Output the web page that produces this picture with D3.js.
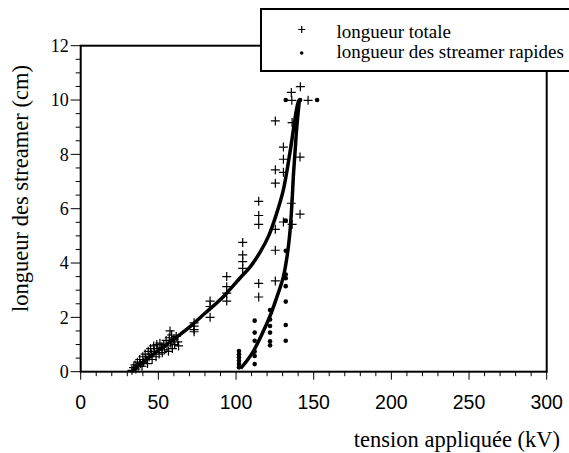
<!DOCTYPE html>
<html>
<head>
<meta charset="utf-8">
<script src="https://cdn.jsdelivr.net/npm/d3@7"></script>
<style>
  body { margin: 0; background: #fff; }
  svg { display: block; }
</style>
</head>
<body>
<div id="chart"></div>
<script>
// longueur totale (kV, cm)
const totale = [
  [33,0.05],[34,0.15],[35,0.25],[35.5,0.1],[36.5,0.35],[37,0.2],[38,0.45],[38.5,0.3],
  [39.5,0.2],[40,0.55],[40.5,0.35],[41.5,0.65],[42,0.45],[43,0.3],[43.5,0.75],[44,0.55],
  [45,0.85],[45.5,0.65],[46,0.45],[47,0.95],[47.5,0.75],[48.5,0.55],[49,1.0],[49.5,0.85],
  [50.5,0.65],[51,1.05],[52,0.9],[52.5,0.7],[53.5,1.0],[54,0.8],[55,1.15],[55.5,0.95],
  [56.5,0.75],[57,1.25],[57.5,1.5],[58,1.05],[58.5,1.35],[59,0.85],[60,1.2],[60.5,1.0],
  [61.5,1.3],[62.5,1.1],[63,0.95],
  [73,1.8],[73,1.68],[73,1.55],[73,1.47],
  [83.3,2.6],[83.3,2.4],[83.3,2.0],
  [94,3.5],[94,3.13],[94,2.89],[94,2.6],
  [104.3,4.76],[104.3,4.3],[104.3,4.05],[104.3,3.8],
  [114.6,6.27],[114.6,5.75],[114.6,5.42],[114.6,3.25],[114.6,2.75],
  [125.3,9.23],[125.3,7.43],[125.3,6.94],[125.3,5.24],[125.3,4.47],[125.3,3.34],
  [130.5,8.27],[130.5,7.82],[130.5,7.34],[130.5,5.51],
  [135.6,10.28],[135.9,9.99],[136.1,9.17],[135.6,6.2],[136.1,5.42],
  [141.4,10.49],[141.2,7.9],[141.2,5.8],
  [146.4,9.99]
];

// longueur des streamer rapides
const rapides = [
  [101.9,0.76],[101.9,0.64],[101.9,0.52],[101.9,0.4],[101.9,0.28],[101.9,0.16],
  [112,1.88],[112,1.44],[112,1.14],[112,0.74],[112,0.58],[112,0.28],
  [121.9,2.27],[121.9,1.92],[121.9,1.68],[121.9,1.44],[121.9,1.12],[121.9,0.97],
  [132,5.56],[132,4.45],[132,3.58],[132,3.44],[132,3.15],[132,2.58],[132,1.72],[132,1.14],
  [132,10.0],[141.2,10.0],[152.2,10.0]
];

// fitted curves
const fitTotale = [
  [32.8,0],[40,0.35],[48.9,0.74],[60,1.2],[70.4,1.66],[80,2.15],[91.8,2.76],
  [102.6,3.45],[109,3.85],[115.5,4.4],[121,5.0],[126,5.8],[130.5,6.7],
  [134.8,8.1],[139.1,9.7],[140.4,10.0]
];
const fitRapides = [
  [103,0.12],[107,0.4],[111.1,0.75],[116,1.3],[121.9,2.05],[126,2.7],[130.5,3.5],
  [133,4.3],[134.8,5.2],[136,6.2],[136.9,7.2],[138,8.1],[139.1,9.0],[140.8,10.0]
];

const xTicks = [0, 50, 100, 150, 200, 250, 300];
const yTicks = [0, 2, 4, 6, 8, 10, 12];
const legendLabels = ["longueur totale", "longueur des streamer rapides"];

const SERIF = "Liberation Serif";
const SANS = "Liberation Sans";

const W = 569, H = 453;
const svg = d3.select("#chart").append("svg")
  .attr("width", W).attr("height", H);

const x = d3.scaleLinear().domain([0, 300]).range([80.7, 546.7]);
const y = d3.scaleLinear().domain([0, 12]).range([371.7, 45.7]);

// frame
svg.append("rect")
  .attr("x", x(0)).attr("y", y(12))
  .attr("width", x(300) - x(0)).attr("height", y(0) - y(12))
  .attr("fill", "none").attr("stroke", "#000").attr("stroke-width", 2);

// x axis ticks (minor every 10)
const xAxis = svg.append("g").attr("transform", `translate(0,${y(0)})`);
xAxis.selectAll("line")
  .data(d3.range(0, 301, 10))
  .join("line")
  .attr("x1", d => x(d)).attr("x2", d => x(d))
  .attr("y1", 0).attr("y2", d => d % 50 === 0 ? 8 : 4.5)
  .attr("stroke", "#000").attr("stroke-width", 1);
xAxis.selectAll("text")
  .data(xTicks)
  .join("text")
  .attr("font-family", SANS)
  .attr("font-size", 19.5)
  .attr("x", d => x(d)).attr("y", 37.5)
  .attr("text-anchor", "middle")
  .text(d => d);

// y axis ticks (minor every 0.5)
const yAxis = svg.append("g").attr("transform", `translate(${x(0)},0)`);
yAxis.selectAll("line")
  .data(d3.range(0, 12.01, 0.5))
  .join("line")
  .attr("x1", 0).attr("x2", d => d % 2 === 0 ? -10 : -5)
  .attr("y1", d => y(d)).attr("y2", d => y(d))
  .attr("stroke", "#000").attr("stroke-width", 1);
yAxis.selectAll("text")
  .data(yTicks)
  .join("text")
  .attr("font-family", SERIF)
  .attr("font-size", 18)
  .attr("x", -12).attr("y", d => y(d))
  .attr("dy", "0.35em")
  .attr("text-anchor", "end")
  .text(d => d);

// axis titles
svg.append("text")
  .attr("font-family", SERIF)
  .attr("font-size", 22.5)
  .attr("x", 560).attr("y", 446.5)
  .attr("text-anchor", "end")
  .text("tension appliquée (kV)");

svg.append("text")
  .attr("font-family", SERIF)
  .attr("font-size", 22.5)
  .attr("transform", "translate(28,188.5) rotate(-90)")
  .attr("text-anchor", "middle")
  .text("longueur des streamer (cm)");

// fit curves
const line = d3.line()
  .x(d => x(d[0]))
  .y(d => y(d[1]))
  .curve(d3.curveCatmullRom);

svg.append("path").attr("d", line(fitTotale))
  .attr("fill", "none").attr("stroke", "#000").attr("stroke-width", 3.5);
svg.append("path").attr("d", line(fitRapides))
  .attr("fill", "none").attr("stroke", "#000").attr("stroke-width", 3.5);

// markers
const plus = (g, s) => g.append("path")
  .attr("d", `M${-s},0H${s}M0,${-s}V${s}`)
  .attr("stroke", "#000").attr("stroke-width", 1.2).attr("fill", "none");

svg.append("g").selectAll("g")
  .data(totale)
  .join("g")
  .attr("transform", d => `translate(${x(d[0])},${y(d[1])})`)
  .each(function () { plus(d3.select(this), 4.5); });

svg.append("g").selectAll("circle")
  .data(rapides)
  .join("circle")
  .attr("cx", d => x(d[0])).attr("cy", d => y(d[1]))
  .attr("r", 2.3).attr("fill", "#000");

// legend
const legend = svg.append("g");
legend.append("rect")
  .attr("x", 261).attr("y", 9)
  .attr("width", 330).attr("height", 62)
  .attr("fill", "#fff").attr("stroke", "#000").attr("stroke-width", 2);
plus(legend.append("g").attr("transform", "translate(301.7,29.5)"), 3.5);
legend.append("circle")
  .attr("cx", 301.7).attr("cy", 53).attr("r", 1.8).attr("fill", "#000");
legend.selectAll("text")
  .data(legendLabels)
  .join("text")
  .attr("font-family", SERIF)
  .attr("font-size", 19)
  .attr("x", 336.5).attr("y", (d, i) => 37.5 + i * 20.5)
  .text(d => d);
</script>
</body>
</html>
